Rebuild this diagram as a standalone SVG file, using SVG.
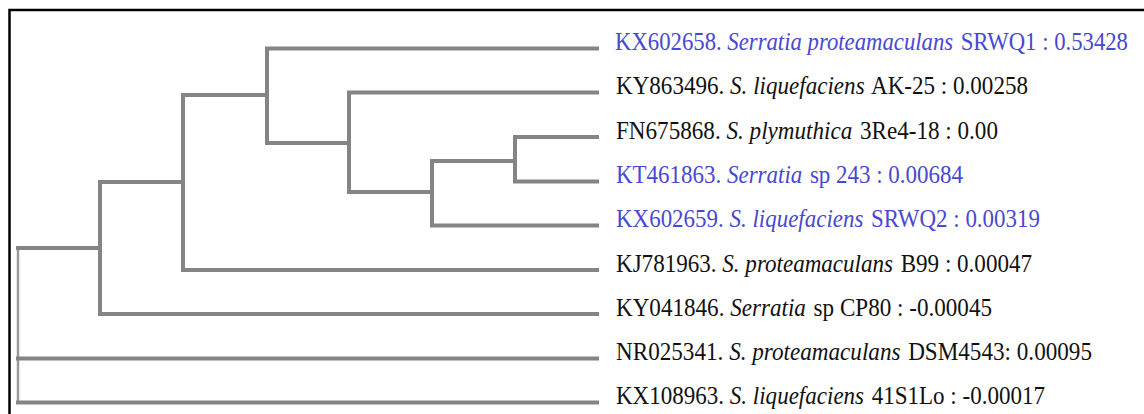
<svg xmlns="http://www.w3.org/2000/svg" width="1144" height="414" viewBox="0 0 1144 414">
<style>
.br{fill:none;stroke:#848484;stroke-width:4;stroke-linecap:square}
.root{fill:none;stroke:#9a9a9a;stroke-width:2.5}
.lbl{font-family:"Liberation Serif","Times New Roman",serif;font-size:24.5px}
.blk{fill:#111111}
.blu{fill:#4848d0}
.it{font-style:italic}
</style>
<rect width="1144" height="414" fill="#ffffff"/>
<path d="M9.5 414 V10 H1144" fill="none" stroke="#000000" stroke-width="2.5"/>
<g id="connectors">
<path class="root" d="M18 248 V403"/>
<path class="br" d="M18 248 H100 M18 358.5 H597 M18 402.5 H597"/>
<path class="br" d="M100 182 V314 M100 182 H183 M100 314 H597"/>
<path class="br" d="M183 95 V270 M183 95 H267 M183 270 H597"/>
<path class="br" d="M267 48.5 V143 M267 48.5 H597 M267 143 H349"/>
<path class="br" d="M349 92.5 V192 M349 92.5 H597 M349 192 H432"/>
<path class="br" d="M432 161 V225.5 M432 161 H515 M432 225.5 H597"/>
<path class="br" d="M515 137 V181.5 M515 137 H597 M515 181.5 H597"/>
</g>
<g id="n1"><text class="lbl blu" x="615" y="50" textLength="513" lengthAdjust="spacingAndGlyphs">KX602658. <tspan class="it">Serratia proteamaculans</tspan><tspan dx="2"> SRWQ1 : 0.53428</tspan></text></g>
<g id="n2"><text class="lbl blk" x="616" y="94" textLength="412" lengthAdjust="spacingAndGlyphs">KY863496. <tspan class="it">S. liquefaciens</tspan><tspan dx="2"> AK-25 : 0.00258</tspan></text></g>
<g id="n3"><text class="lbl blk" x="616" y="138.5" textLength="382" lengthAdjust="spacingAndGlyphs">FN675868. <tspan class="it">S. plymuthica</tspan><tspan dx="2"> 3Re4-18 : 0.00</tspan></text></g>
<g id="n4"><text class="lbl blu" x="616" y="183" textLength="347" lengthAdjust="spacingAndGlyphs">KT461863. <tspan class="it">Serratia</tspan><tspan dx="2"> sp 243 : 0.00684</tspan></text></g>
<g id="n5"><text class="lbl blu" x="616" y="227" textLength="424" lengthAdjust="spacingAndGlyphs">KX602659. <tspan class="it">S. liquefaciens</tspan><tspan dx="2"> SRWQ2 : 0.00319</tspan></text></g>
<g id="n6"><text class="lbl blk" x="616" y="271.5" textLength="416" lengthAdjust="spacingAndGlyphs">KJ781963. <tspan class="it">S. proteamaculans</tspan><tspan dx="2"> B99 : 0.00047</tspan></text></g>
<g id="n7"><text class="lbl blk" x="616" y="315.5" textLength="376" lengthAdjust="spacingAndGlyphs">KY041846. <tspan class="it">Serratia</tspan><tspan dx="2"> sp CP80 : -0.00045</tspan></text></g>
<g id="n8"><text class="lbl blk" x="616" y="360" textLength="476" lengthAdjust="spacingAndGlyphs">NR025341. <tspan class="it">S. proteamaculans</tspan><tspan dx="2"> DSM4543: 0.00095</tspan></text></g>
<g id="n9"><text class="lbl blk" x="616" y="404" textLength="429" lengthAdjust="spacingAndGlyphs">KX108963. <tspan class="it">S. liquefaciens</tspan><tspan dx="2"> 41S1Lo : -0.00017</tspan></text></g>
</svg>
